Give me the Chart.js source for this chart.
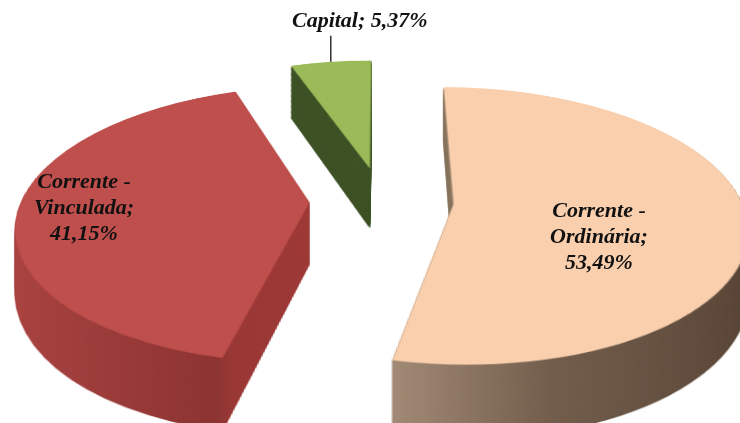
<!DOCTYPE html>
<html>
<head>
<meta charset="utf-8">
<script src="https://cdn.jsdelivr.net/npm/chart.js@4.4.0/dist/chart.umd.min.js"></script>
<style>
  html, body { margin: 0; padding: 0; background: #fff; }
  #wrap { width: 740px; height: 423px; }
</style>
</head>
<body>
<div id="wrap"><canvas id="myChart"></canvas></div>
<script>
var categories = ["Corrente - Ordinária", "Corrente - Vinculada", "Capital"];
var shares = [53.49, 41.15, 5.37];
var topColors = ["#f9cfad", "#bf4f4c", "#9bbb59"];

// look of the 3d pie: perspective, thickness, explode, side shading, labels
var look = {
  sx: 1.44,
  sy: 0.671,
  k: 0.00078,
  depth: 62,
  explode: [50, 50, 50],
  sideStops: [
    [[0, "#a58e79"], [100, "#735e4d"], [240, "#5a4638"]],
    [[-250, "#ad4745"], [-96, "#8d3533"], [-90, "#9b3a38"], [-40, "#a03c3a"]],
    [[-100, "#3f5327"], [0, "#3f5327"]]
  ],
  font: "italic bold 22px 'Liberation Serif'",
  lineHeight: 26,
  labels: [
    { at: 0.5, dy: 26 },
    { at: 0.775, dy: 0 },
    { at: 1, leader: 26, gap: 14, dx: 29 }
  ]
};

function pct(v) {
  return v.toFixed(2).replace(".", ",") + "%";
}

var pie3d = {
  id: "pie3d",
  beforeDatasetsDraw: function (chart) {
    var ctx = chart.ctx;
    var arcs = chart.getDatasetMeta(0).data;
    var cx = arcs[0].x, cy = arcs[0].y, R = arcs[0].outerRadius;
    var O = Math.ceil(R + Math.max.apply(null, look.explode)) + 4, S = 2 * O;

    function shift(arc, i) {
      var m = (arc.startAngle + arc.endAngle) / 2;
      return { x: Math.cos(m) * look.explode[i], y: Math.sin(m) * look.explode[i], m: m };
    }

    // the flat exploded pie, drawn by the library on its own plane canvas
    function plane(side) {
      var c = document.createElement("canvas");
      c.width = S;
      c.height = S;
      var pc = c.getContext("2d");
      arcs.forEach(function (arc, i) {
        var s = shift(arc, i);
        pc.save();
        pc.translate(O - arc.x + s.x, O - arc.y + s.y);
        if (side) {
          var st = look.sideStops[i];
          var a = st[0][0], b = st[st.length - 1][0];
          var base = arc.x - s.x;
          var g = pc.createLinearGradient(base + a, 0, base + b, 0);
          st.forEach(function (p) { g.addColorStop((p[0] - a) / (b - a), p[1]); });
          var wall = Object.create(arc);
          wall.options = Object.assign({}, arc.options, { backgroundColor: g, borderColor: g });
          wall.draw(pc);
        } else {
          arc.draw(pc);
        }
        pc.restore();
      });
      return c;
    }

    // perspective: plane row Y seen at height h
    function toPlane(dy, h) { return (dy - h) / (look.sy + look.k * dy); }
    function toScreen(X, Y, h) {
      var g = 1 / (1 - look.k * Y);
      return { x: cx + look.sx * X * g, y: cy + (look.sy * Y + h) * g };
    }
    function put(src, h) {
      for (var y = 0; y < chart.height; y++) {
        var ya = toPlane(y - cy, h), yb = toPlane(y + 1 - cy, h);
        var ra = Math.max(0, O + ya), rb = Math.min(S, O + yb);
        if (rb <= ra) continue;
        var g = 1 / (1 - look.k * (ya + yb) / 2);
        var w = S * look.sx * g;
        ctx.drawImage(src, 0, ra, S, rb - ra, cx - w / 2, y, w, 1);
      }
    }

    var sides = plane(true), tops = plane(false);
    for (var h = look.depth; h > 0; h--) put(sides, h);
    put(tops, 0);

    // data labels
    ctx.save();
    ctx.fillStyle = "#111";
    ctx.strokeStyle = "#111";
    ctx.font = look.font;
    ctx.textAlign = "center";
    ctx.textBaseline = "middle";
    arcs.forEach(function (arc, i) {
      var lab = look.labels[i];
      var s = shift(arc, i), r = R * lab.at;
      var p = toScreen(s.x + Math.cos(s.m) * r, s.y + Math.sin(s.m) * r, 0);
      var lines;
      if (lab.leader) {
        ctx.lineWidth = 1.3;
        ctx.beginPath();
        ctx.moveTo(p.x, p.y);
        ctx.lineTo(p.x, p.y - lab.leader);
        ctx.stroke();
        p = { x: p.x + lab.dx, y: p.y - lab.leader - lab.gap };
        lines = [categories[i] + "; " + pct(shares[i])];
      } else {
        p.y += lab.dy;
        var parts = categories[i].split(" - ");
        lines = [parts[0] + " -", parts[1] + ";", pct(shares[i])];
      }
      var y0 = p.y - (lines.length - 1) * look.lineHeight / 2;
      lines.forEach(function (t, j) {
        ctx.fillText(t, p.x, y0 + j * look.lineHeight);
      });
    });
    ctx.restore();
    return false;
  }
};

new Chart("myChart", {
  type: "pie",
  data: {
    labels: categories,
    datasets: [{
      data: shares,
      backgroundColor: topColors,
      borderWidth: 0,
      hoverOffset: 0,
      radius: 200
    }]
  },
  options: {
    responsive: true,
    maintainAspectRatio: false,
    animation: false,
    events: [],
    layout: { padding: { left: 23, bottom: 22 } },
    plugins: {
      legend: { display: false },
      tooltip: { enabled: false }
    }
  },
  plugins: [pie3d]
});
</script>
</body>
</html>
